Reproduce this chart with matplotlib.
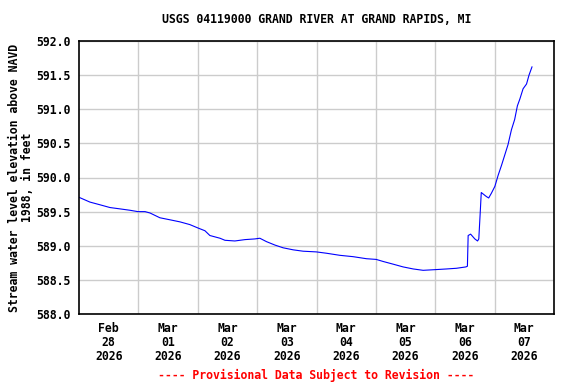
import numpy as np
import matplotlib
matplotlib.use("Agg")
import matplotlib.pyplot as plt

# Gage height readings, hours after 2026-02-28 00:00
hours = [0.0, 4.4, 8.5, 12.5, 16.6, 20.6, 23.8, 26.7, 28.7, 32.7, 36.8, 40.8,
         44.8, 48.1, 50.9, 52.9, 57.0, 59.0, 63.0, 67.1, 71.1, 73.1, 75.8,
         79.2, 82.5, 86.6, 90.6, 95.9, 100.1, 105.4, 110.8, 116.2, 120.1,
         122.9, 127.0, 131.0, 135.1, 139.1, 144.0, 148.6, 152.6, 156.4,
         157.0, 157.3, 158.3, 160.0, 161.1, 161.6, 162.2, 162.6, 163.3,
         164.7, 165.6, 166.7, 168.1, 169.4, 170.8, 172.1, 173.4, 174.8,
         176.1, 177.2, 178.2, 179.5, 180.9, 181.9, 183.1]
elev = [589.71, 589.64, 589.60, 589.56, 589.54, 589.52, 589.50, 589.50,
        589.48, 589.41, 589.38, 589.35, 589.31, 589.26, 589.22, 589.15,
        589.11, 589.08, 589.07, 589.09, 589.10, 589.11, 589.06, 589.01,
        588.97, 588.94, 588.92, 588.91, 588.89, 588.86, 588.84, 588.81,
        588.80, 588.77, 588.73, 588.69, 588.66, 588.64, 588.65, 588.66,
        588.67, 588.69, 588.70, 589.15, 589.17, 589.10, 589.07, 589.10,
        589.50, 589.78, 589.76, 589.72, 589.70, 589.77, 589.87, 590.03,
        590.18, 590.33, 590.48, 590.70, 590.85, 591.05, 591.15, 591.30,
        591.37, 591.50, 591.62]

day_labels = ["Feb\n28\n2026", "Mar\n01\n2026", "Mar\n02\n2026", "Mar\n03\n2026",
              "Mar\n04\n2026", "Mar\n05\n2026", "Mar\n06\n2026", "Mar\n07\n2026"]
y_ticks = [588.0, 588.5, 589.0, 589.5, 590.0, 590.5, 591.0, 591.5, 592.0]

plt.rcParams["font.family"] = ["DejaVu Sans Mono"]
plt.rcParams["font.weight"] = "bold"
plt.rcParams["font.size"] = 8.3

fig = plt.figure(figsize=(5.76, 3.84), dpi=100)
ax = fig.add_axes([79 / 576, 1 - 314 / 384, 475 / 576, 273 / 384])

ax.plot(hours, elev, color="#0000ff", lw=0.8)

ax.set_xlim(0, 8 * 24)
ax.set_ylim(588.0, 592.0)
ax.set_yticks(y_ticks)
ax.set_yticklabels([f"{v:.1f}" for v in y_ticks])
ax.set_xticks(np.arange(8) * 24 + 12)
ax.set_xticklabels(day_labels, linespacing=1.1)
ax.set_xticks(np.arange(1, 8) * 24, minor=True)
ax.tick_params(which="both", length=0, pad=6)
ax.grid(True, which="minor", axis="x", color="#cccccc", lw=1)
ax.grid(True, which="major", axis="y", color="#cccccc", lw=1)
for s in ax.spines.values():
    s.set_linewidth(1.2)

ax.set_ylabel("Stream water level elevation above NAVD\n1988, in feet",
              linespacing=1.0, labelpad=2, fontweight="bold")
ax.set_title("USGS 04119000 GRAND RIVER AT GRAND RAPIDS, MI", fontsize=8.3,
             fontweight="bold", pad=13)
fig.text(316.5 / 576, 1 - 375 / 384, "---- Provisional Data Subject to Revision ----",
         color="red", ha="center", va="center")

fig.savefig("out.png", dpi=100)
